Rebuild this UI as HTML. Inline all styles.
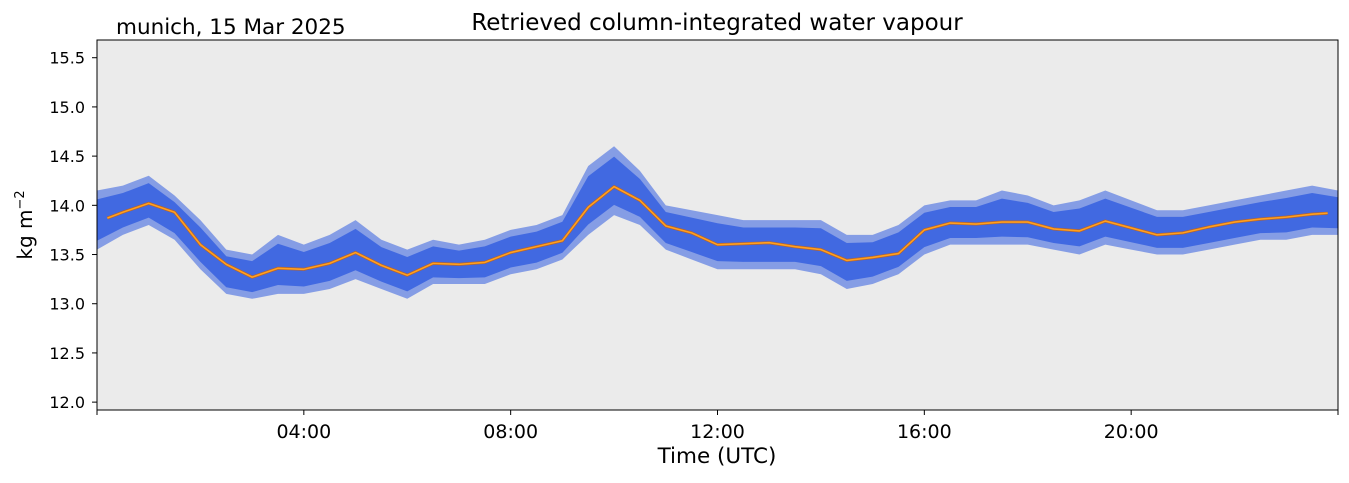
<!DOCTYPE html>
<html><head><meta charset="utf-8"><style>
body{margin:0;background:#fff;}
svg text{font-family:"DejaVu Sans","Liberation Sans",sans-serif;}
</style></head><body>
<svg id="chart" width="1349" height="478" xmlns="http://www.w3.org/2000/svg">
<rect x="97" y="40" width="1241" height="370" fill="#ebebeb"/>
<g id="band"></g>
<g id="line"></g>
<rect x="97" y="40" width="1241" height="370" fill="none" stroke="#000" stroke-width="1"/>
<g id="yticks"></g>
<g id="xticks"></g>
<text x="717" y="30" font-size="23" text-anchor="middle">Retrieved column-integrated water vapour</text>
<text x="116" y="34" font-size="21.5">munich, 15 Mar 2025</text>
<text x="717" y="463" font-size="21.5" text-anchor="middle">Time (UTC)</text>
<text transform="translate(32,225) rotate(-90)" font-size="20" text-anchor="middle">kg m<tspan font-size="13" dy="-8">−2</tspan></text>
</svg>
<script>
const bandHours=[0,0.5,1,1.5,2,2.5,3,3.5,4,4.5,5,5.5,6,6.5,7,7.5,8,8.5,9,9.5,10,10.5,11,11.5,12,12.5,13,13.5,14,14.5,15,15.5,16,16.5,17,17.5,18,18.5,19,19.5,20,20.5,21,21.5,22,22.5,23,23.5,24];
const upperVals=[14.15,14.2,14.3,14.1,13.85,13.55,13.5,13.7,13.6,13.7,13.85,13.65,13.55,13.65,13.6,13.65,13.75,13.8,13.9,14.4,14.6,14.35,14.0,13.95,13.9,13.85,13.85,13.85,13.85,13.7,13.7,13.8,14.0,14.05,14.05,14.15,14.1,14.0,14.05,14.15,14.05,13.95,13.95,14.0,14.05,14.1,14.15,14.2,14.15];
const lowerVals=[13.55,13.7,13.8,13.65,13.35,13.1,13.05,13.1,13.1,13.15,13.25,13.15,13.05,13.2,13.2,13.2,13.3,13.35,13.45,13.7,13.9,13.8,13.55,13.45,13.35,13.35,13.35,13.35,13.3,13.15,13.2,13.3,13.5,13.6,13.6,13.6,13.6,13.55,13.5,13.6,13.55,13.5,13.5,13.55,13.6,13.65,13.65,13.7,13.7];
const meanHours=[0.2,0.5,1,1.5,2,2.5,3,3.5,4,4.5,5,5.5,6,6.5,7,7.5,8,8.5,9,9.5,10,10.5,11,11.5,12,12.5,13,13.5,14,14.5,15,15.5,16,16.5,17,17.5,18,18.5,19,19.5,20,20.5,21,21.5,22,22.5,23,23.5,23.8];
const meanVals=[13.87,13.93,14.02,13.93,13.6,13.4,13.27,13.36,13.35,13.41,13.52,13.39,13.29,13.41,13.40,13.42,13.52,13.58,13.64,13.98,14.19,14.05,13.79,13.72,13.6,13.61,13.62,13.58,13.55,13.44,13.47,13.51,13.75,13.82,13.81,13.83,13.83,13.76,13.74,13.84,13.77,13.70,13.72,13.78,13.83,13.86,13.88,13.91,13.92];
const yTicks=[12.0,12.5,13.0,13.5,14.0,14.5,15.0,15.5];
const xTicks=[4,8,12,16,20];
const xTickLabels=["04:00","08:00","12:00","16:00","20:00"];
const X0=97,X1=1338,Y0=410,Y1=40,VMIN=11.92,VMAX=15.68;
const xs=h=>X0+(h/24)*(X1-X0);
const ys=v=>Y0-(v-VMIN)/(VMAX-VMIN)*(Y0-Y1);
const NS="http://www.w3.org/2000/svg";
function mk(t,a,p){const e=document.createElementNS(NS,t);for(const k in a)e.setAttribute(k,a[k]);p.appendChild(e);return e;}
const band=document.getElementById('band');
let outer=bandHours.map((h,i)=>xs(h)+','+ys(upperVals[i])).join(' ')+' '+bandHours.map((h,i)=>xs(h)+','+ys(lowerVals[i])).reverse().join(' ');
const po=mk('polygon',{points:outer,fill:'#4169e1','fill-opacity':'0.6'},band);


let inner=bandHours.map((h,i)=>xs(h)+','+ys(upperVals[i]-(upperVals[i]-lowerVals[i])*0.15)).join(' ')+' '+bandHours.map((h,i)=>xs(h)+','+ys(lowerVals[i]+(upperVals[i]-lowerVals[i])*0.15)).reverse().join(' ');
const pi=mk('polygon',{points:inner,fill:'#4169e1'},band);


const line=document.getElementById('line');
const pts=meanHours.map((h,i)=>xs(h)+','+ys(meanVals[i])).join(' ');
const l1=mk('polyline',{points:pts,fill:'none',stroke:'#b8632a','stroke-width':'3','stroke-linejoin':'round'},line);


const l2=mk('polyline',{points:pts,fill:'none',stroke:'#ffa020','stroke-width':'1.6','stroke-linejoin':'round'},line);


const yg=document.getElementById('yticks');
yTicks.forEach(v=>{const y=ys(v);
const t=mk('line',{x1:X0-5,x2:X0,y1:y,y2:y,stroke:'#000'},yg);


const tx=mk('text',{x:X0-12,y:y+6,'font-size':'16','text-anchor':'end'},yg);tx.textContent=v.toFixed(1);

});
const xg=document.getElementById('xticks');
[0].concat(xTicks,[24]).forEach(h=>{const x=xs(h);
const t=mk('line',{x1:x,x2:x,y1:Y0,y2:Y0+5,stroke:'#000'},xg);

});
xTicks.forEach((h,i)=>{const tx=mk('text',{x:xs(h),y:Y0+28,'font-size':'19','text-anchor':'middle'},xg);tx.textContent=xTickLabels[i];

});
</script>
</body></html>
